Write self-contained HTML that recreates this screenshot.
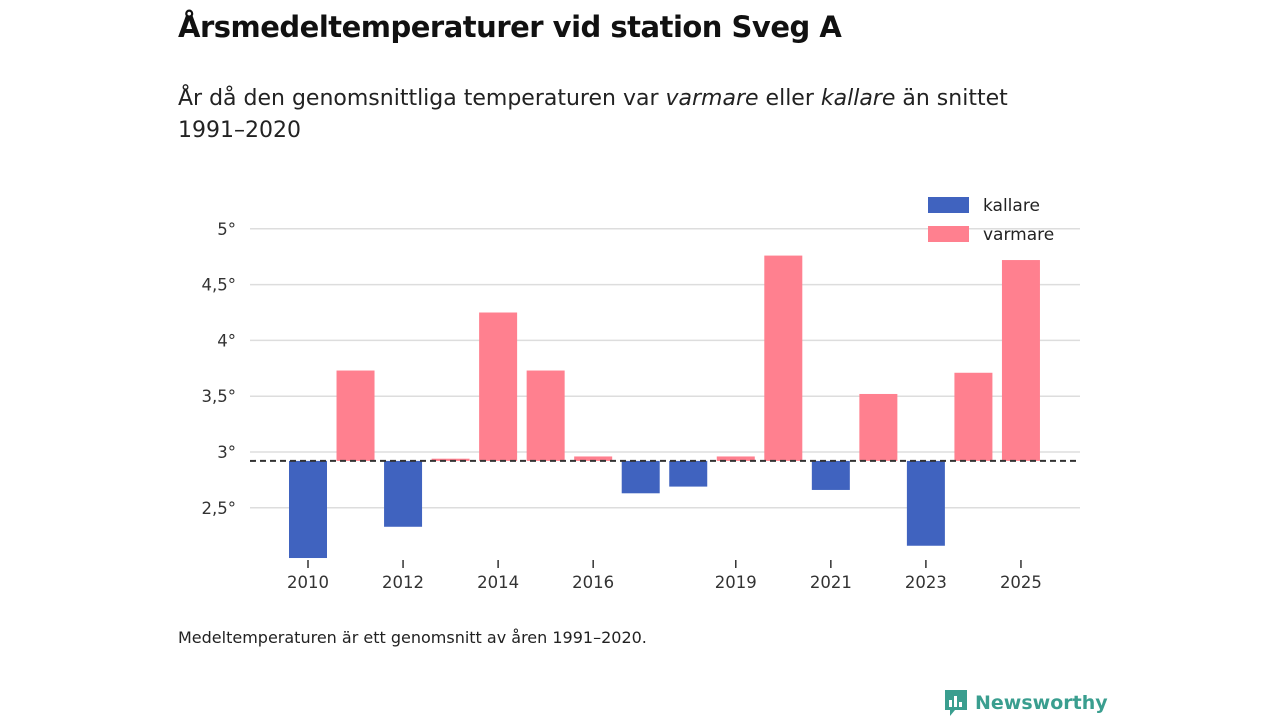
<!DOCTYPE html>
<html><head><meta charset="utf-8"><style>
body{margin:0;width:1280px;height:720px;background:#fff;font-family:"DejaVu Sans","Liberation Sans",sans-serif;color:#111;position:relative;overflow:hidden}
h1{position:absolute;left:178px;top:10px;margin:0;font-size:29px;font-weight:bold;letter-spacing:-0.5px}
.sub{position:absolute;left:178px;top:83px;font-size:22px;line-height:32px;width:860px;color:#222}
.note{position:absolute;left:178px;top:628px;font-size:16px;color:#222}
.logo{position:absolute;left:943px;top:688px;font-size:19px;font-weight:bold;color:#3a9e8f;display:flex;align-items:center;gap:6px}
</style></head><body>
<h1>Årsmedeltemperaturer vid station Sveg A</h1>
<div class="sub">År då den genomsnittliga temperaturen var <i>varmare</i> eller <i>kallare</i> än snittet 1991–2020</div>
<svg id="chart" width="1280" height="720" style="position:absolute;left:0;top:0"></svg>
<div class="note">Medeltemperaturen är ett genomsnitt av åren 1991–2020.</div>
<div class="logo"><svg width="26" height="30" viewBox="0 0 26 30"><path d="M2 2h22v20H12l-5 6v-6H2z" fill="#3a9e8f"/><rect x="6" y="12" width="3" height="7" fill="#fff"/><rect x="11" y="8" width="3" height="11" fill="#fff"/><rect x="16" y="14" width="3" height="5" fill="#fff"/></svg><span>Newsworthy</span></div>
<script>
const years=[2010,2011,2012,2013,2014,2015,2016,2017,2018,2019,2020,2021,2022,2023,2024,2025];
const temps=[2.05,3.73,2.33,2.94,4.25,3.73,2.96,2.63,2.69,2.96,4.76,2.66,3.52,2.16,3.71,4.72];
const mean=2.92;
const yTicks=[2.5,3,3.5,4,4.5,5];
const yTickLabels=["2,5°","3°","3,5°","4°","4,5°","5°"];
const xTicks=[2010,2012,2014,2016,2019,2021,2023,2025];
const NS="http://www.w3.org/2000/svg";
const svg=document.getElementById('chart');
const y=v=>452-(v-3)*111.6;
const x=yr=>308+(yr-2010)*47.53;
function mk(t,a){const e=document.createElementNS(NS,t);for(const k in a)e.setAttribute(k,a[k]);svg.appendChild(e);return e;}
yTicks.forEach((v,i)=>{
 const l=mk('line',{x1:250,x2:1080,y1:y(v),y2:y(v),stroke:'#ddd','stroke-width':1.5});
 
 
 const t=mk('text',{x:236,y:y(v)+6,'text-anchor':'end','font-size':16.5,fill:'#333'});
 t.textContent=yTickLabels[i];
 
 
});
years.forEach((yr,i)=>{
 const v=temps[i],top=y(Math.max(v,mean)),bot=y(Math.min(v,mean));
 const r=mk('rect',{x:x(yr)-19,y:top,width:38,height:Math.max(bot-top,1),fill:v>=mean?'#ff808f':'#4063bf'});
 
 
});
const m=mk('line',{x1:250,x2:1080,y1:y(mean),y2:y(mean),stroke:'#333','stroke-width':2,'stroke-dasharray':'6,4'});


xTicks.forEach(yr=>{
 const l=mk('line',{x1:x(yr),x2:x(yr),y1:560,y2:568,stroke:'#333','stroke-width':1.5});
 
 
 const t=mk('text',{x:x(yr),y:588,'text-anchor':'middle','font-size':16.5,fill:'#333'});
 t.textContent=yr;
 
 
});
[['kallare','#4063bf',197],['varmare','#ff808f',226]].forEach(([n,c,yy])=>{
 const r=mk('rect',{x:928,y:yy,width:41,height:16,fill:c});
 
 
 const t=mk('text',{x:983,y:yy+14,'font-size':17,fill:'#222'});
 t.textContent=n;
 
 
});
</script>
</body></html>
